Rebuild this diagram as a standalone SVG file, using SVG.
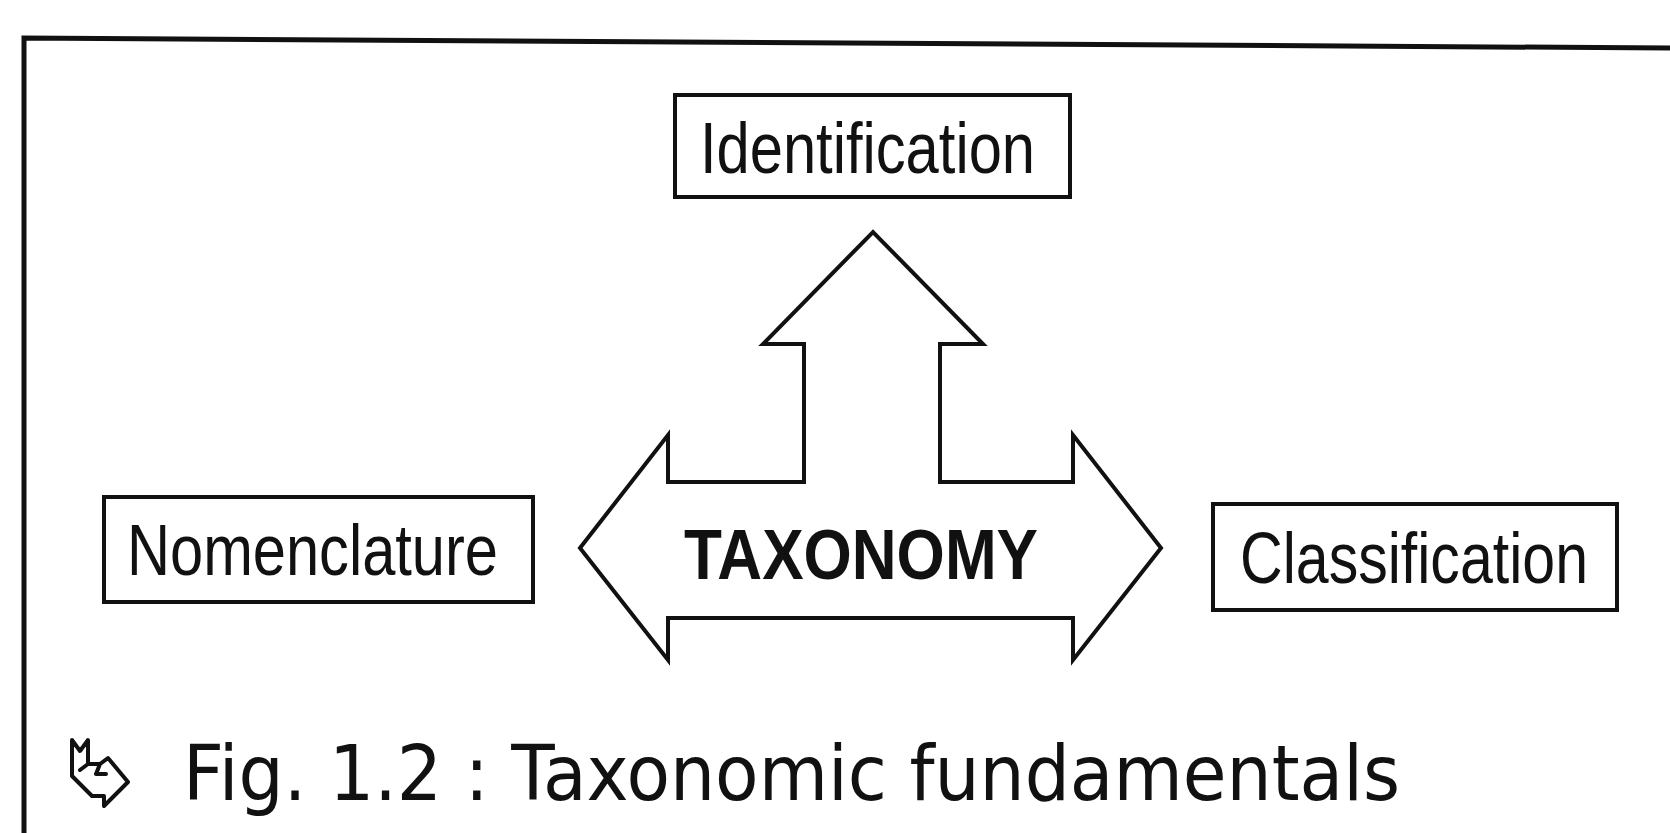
<svg xmlns="http://www.w3.org/2000/svg" width="1670" height="833" viewBox="0 0 1670 833">
  <style>
    .box { fill: #fff; stroke: #111; stroke-width: 4; }
    .lbl { font-family: "Liberation Sans Narrow", "Liberation Sans", Arial, sans-serif; font-size: 72px; fill: #111; }
    .big { font-family: "Liberation Sans Narrow", "Liberation Sans", Arial, sans-serif; font-size: 70px; font-weight: bold; fill: #111; }
    .cap { font-family: "DejaVu Sans", "Liberation Sans", sans-serif; font-size: 76px; fill: #111; }
    .frame { fill: none; stroke: #111; stroke-width: 5; }
    .arrow { fill: #fff; stroke: #111; stroke-width: 4; stroke-linejoin: miter; }
  </style>
  <rect width="1670" height="833" fill="#fff"/>
  <g id="frame">
    <path class="frame" d="M24 833 L24 38 L1670 48"/>
  </g>
  <g id="connectors">
    <polygon class="arrow" points="580,548 668,435 668,482 804,482 804,344 763,344 873,232 983,344 940,344 940,482 1073,482 1073,435 1161,548 1073,660 1073,618 668,618 668,660"/>
  </g>
  <g id="taxonomy">
    <text class="big" x="684" y="579" textLength="354" lengthAdjust="spacingAndGlyphs">TAXONOMY</text>
  </g>
  <g id="identification">
    <rect class="box" x="675" y="95" width="395" height="102"/>
    <text class="lbl" x="700" y="173" textLength="335" lengthAdjust="spacingAndGlyphs">Identification</text>
  </g>
  <g id="nomenclature">
    <rect class="box" x="104" y="497" width="429" height="105"/>
    <text class="lbl" x="127" y="575" textLength="371" lengthAdjust="spacingAndGlyphs">Nomenclature</text>
  </g>
  <g id="classification">
    <rect class="box" x="1213" y="504" width="404" height="106"/>
    <text class="lbl" x="1240" y="583" textLength="348" lengthAdjust="spacingAndGlyphs">Classification</text>
  </g>
  <g id="caption">
    <path d="M72 740 L80 751 L88 740 L88 764 L100 764 L108 758 L128 782 L104 806 L104 796 L92 796 L72 776 Z M88 764 L80 770 M100 764 L96 774 L106 774" fill="none" stroke="#111" stroke-width="4" stroke-linejoin="round" stroke-linecap="round"/>
    <text class="cap" x="183" y="800" textLength="1217" lengthAdjust="spacingAndGlyphs">Fig.  1.2  :  Taxonomic  fundamentals</text>
  </g>
</svg>
